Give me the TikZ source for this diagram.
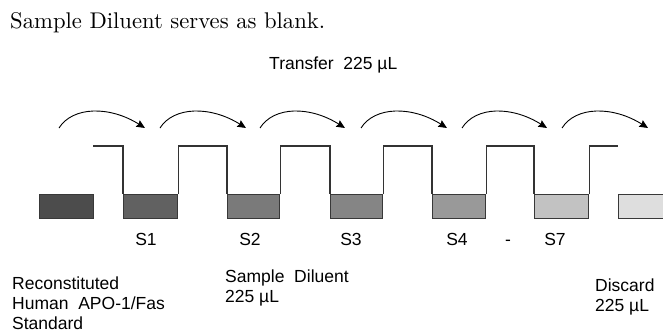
\documentclass[tikz,border=0pt]{standalone}
\usepackage{fontspec}
\newfontfamily\arialf{Liberation Sans}
\newfontfamily\lmten{lmroman10-regular.otf}
\usetikzlibrary{arrows.meta}
\begin{document}
\begin{tikzpicture}[x=1pt,y=-1pt,
  lbl/.style={font=\arialf\fontsize{17.5}{20.5}\selectfont, inner sep=0pt, align=left},
  tubebox/.style={draw=black!78, line width=1.2pt, inner sep=0pt, minimum height=24pt, anchor=north west},
  wall/.style={draw=black!80, line width=1.1pt},
  xfer/.style={-{Stealth[length=8.5pt,width=7.5pt,inset=1pt]}, line width=0.9pt}]
\clip (0,0) rectangle (663,332);
\fill[white] (0,0) rectangle (663,332);
% heading
\node[inner sep=0pt, anchor=base west] (note) at (10,28)
  {\resizebox{315pt}{16pt}{\lmten\fontsize{20}{24}\selectfont Sample Diluent serves as blank.}};
\node[lbl, anchor=base west] (xf) at (269,69) {Transfer\ \ 225 µL};
% tubes
\node[tubebox, fill=black!70, minimum width=54pt] (std) at (39,194) {};
\node[tubebox, fill=black!62, minimum width=54pt] (s1) at (123,194) {};
\node[tubebox, fill=black!52, minimum width=52pt] (s2) at (227,194) {};
\node[tubebox, fill=black!48, minimum width=52pt] (s3) at (330,194) {};
\node[tubebox, fill=black!40, minimum width=53pt] (s4) at (432,194) {};
\node[tubebox, fill=black!24, minimum width=54pt] (s7) at (534,194) {};
\node[tubebox, fill=black!13, minimum width=54pt] (disc) at (618,194) {};
% walls
\coordinate (t0) at (93,146);
\coordinate (t7) at (618,146);
\draw[wall] (t0) -| (s1.north west);
\draw[wall] (s1.north east) -- ++(0,-48) -| (s2.north west);
\draw[wall] (s2.north east) -- ++(0,-48) -| (s3.north west);
\draw[wall] (s3.north east) -- ++(0,-48) -| (s4.north west);
\draw[wall] (s4.north east) -- ++(0,-48) -| (s7.north west);
\draw[wall] (s7.north east) |- (t7);
% transfer arrows
\foreach \i/\a/\b in {0/59/145, 1/160/246, 2/260/345, 3/361/447, 4/462/547, 5/562/648}{
  \coordinate (as\i) at (\a,128);
  \coordinate (ae\i) at (\b,128);
  \draw[xfer] (as\i) .. controls +(14,-22) and +(-35,-22) .. (ae\i);
}
% tube labels
\node[lbl, anchor=base] (l1) at (146,245) {S1};
\node[lbl, anchor=base] (l2) at (250,245) {S2};
\node[lbl, anchor=base] (l3) at (351,245) {S3};
\node[lbl, anchor=base] (l4) at (457,245) {S4};
\node[lbl, anchor=base] (ld) at (508,245) {-};
\node[lbl, anchor=base] (l7) at (555,245) {S7};
% bottom labels
\node[lbl, anchor=base west] (rec1) at (12,289.5) {Reconstituted};
\node[lbl, anchor=base west] (rec2) at (12,309.5) {Human\ \ APO-1/Fas};
\node[lbl, anchor=base west] (rec3) at (12,329.5) {Standard};
\node[lbl, anchor=base west] (sd1) at (225,282) {Sample\ \ Diluent};
\node[lbl, anchor=base west] (sd2) at (225,302.5) {225 µL};
\node[lbl, anchor=base west] (dc1) at (595,291) {Discard};
\node[lbl, anchor=base west] (dc2) at (595,311.5) {225 µL};
\end{tikzpicture}
\end{document}
